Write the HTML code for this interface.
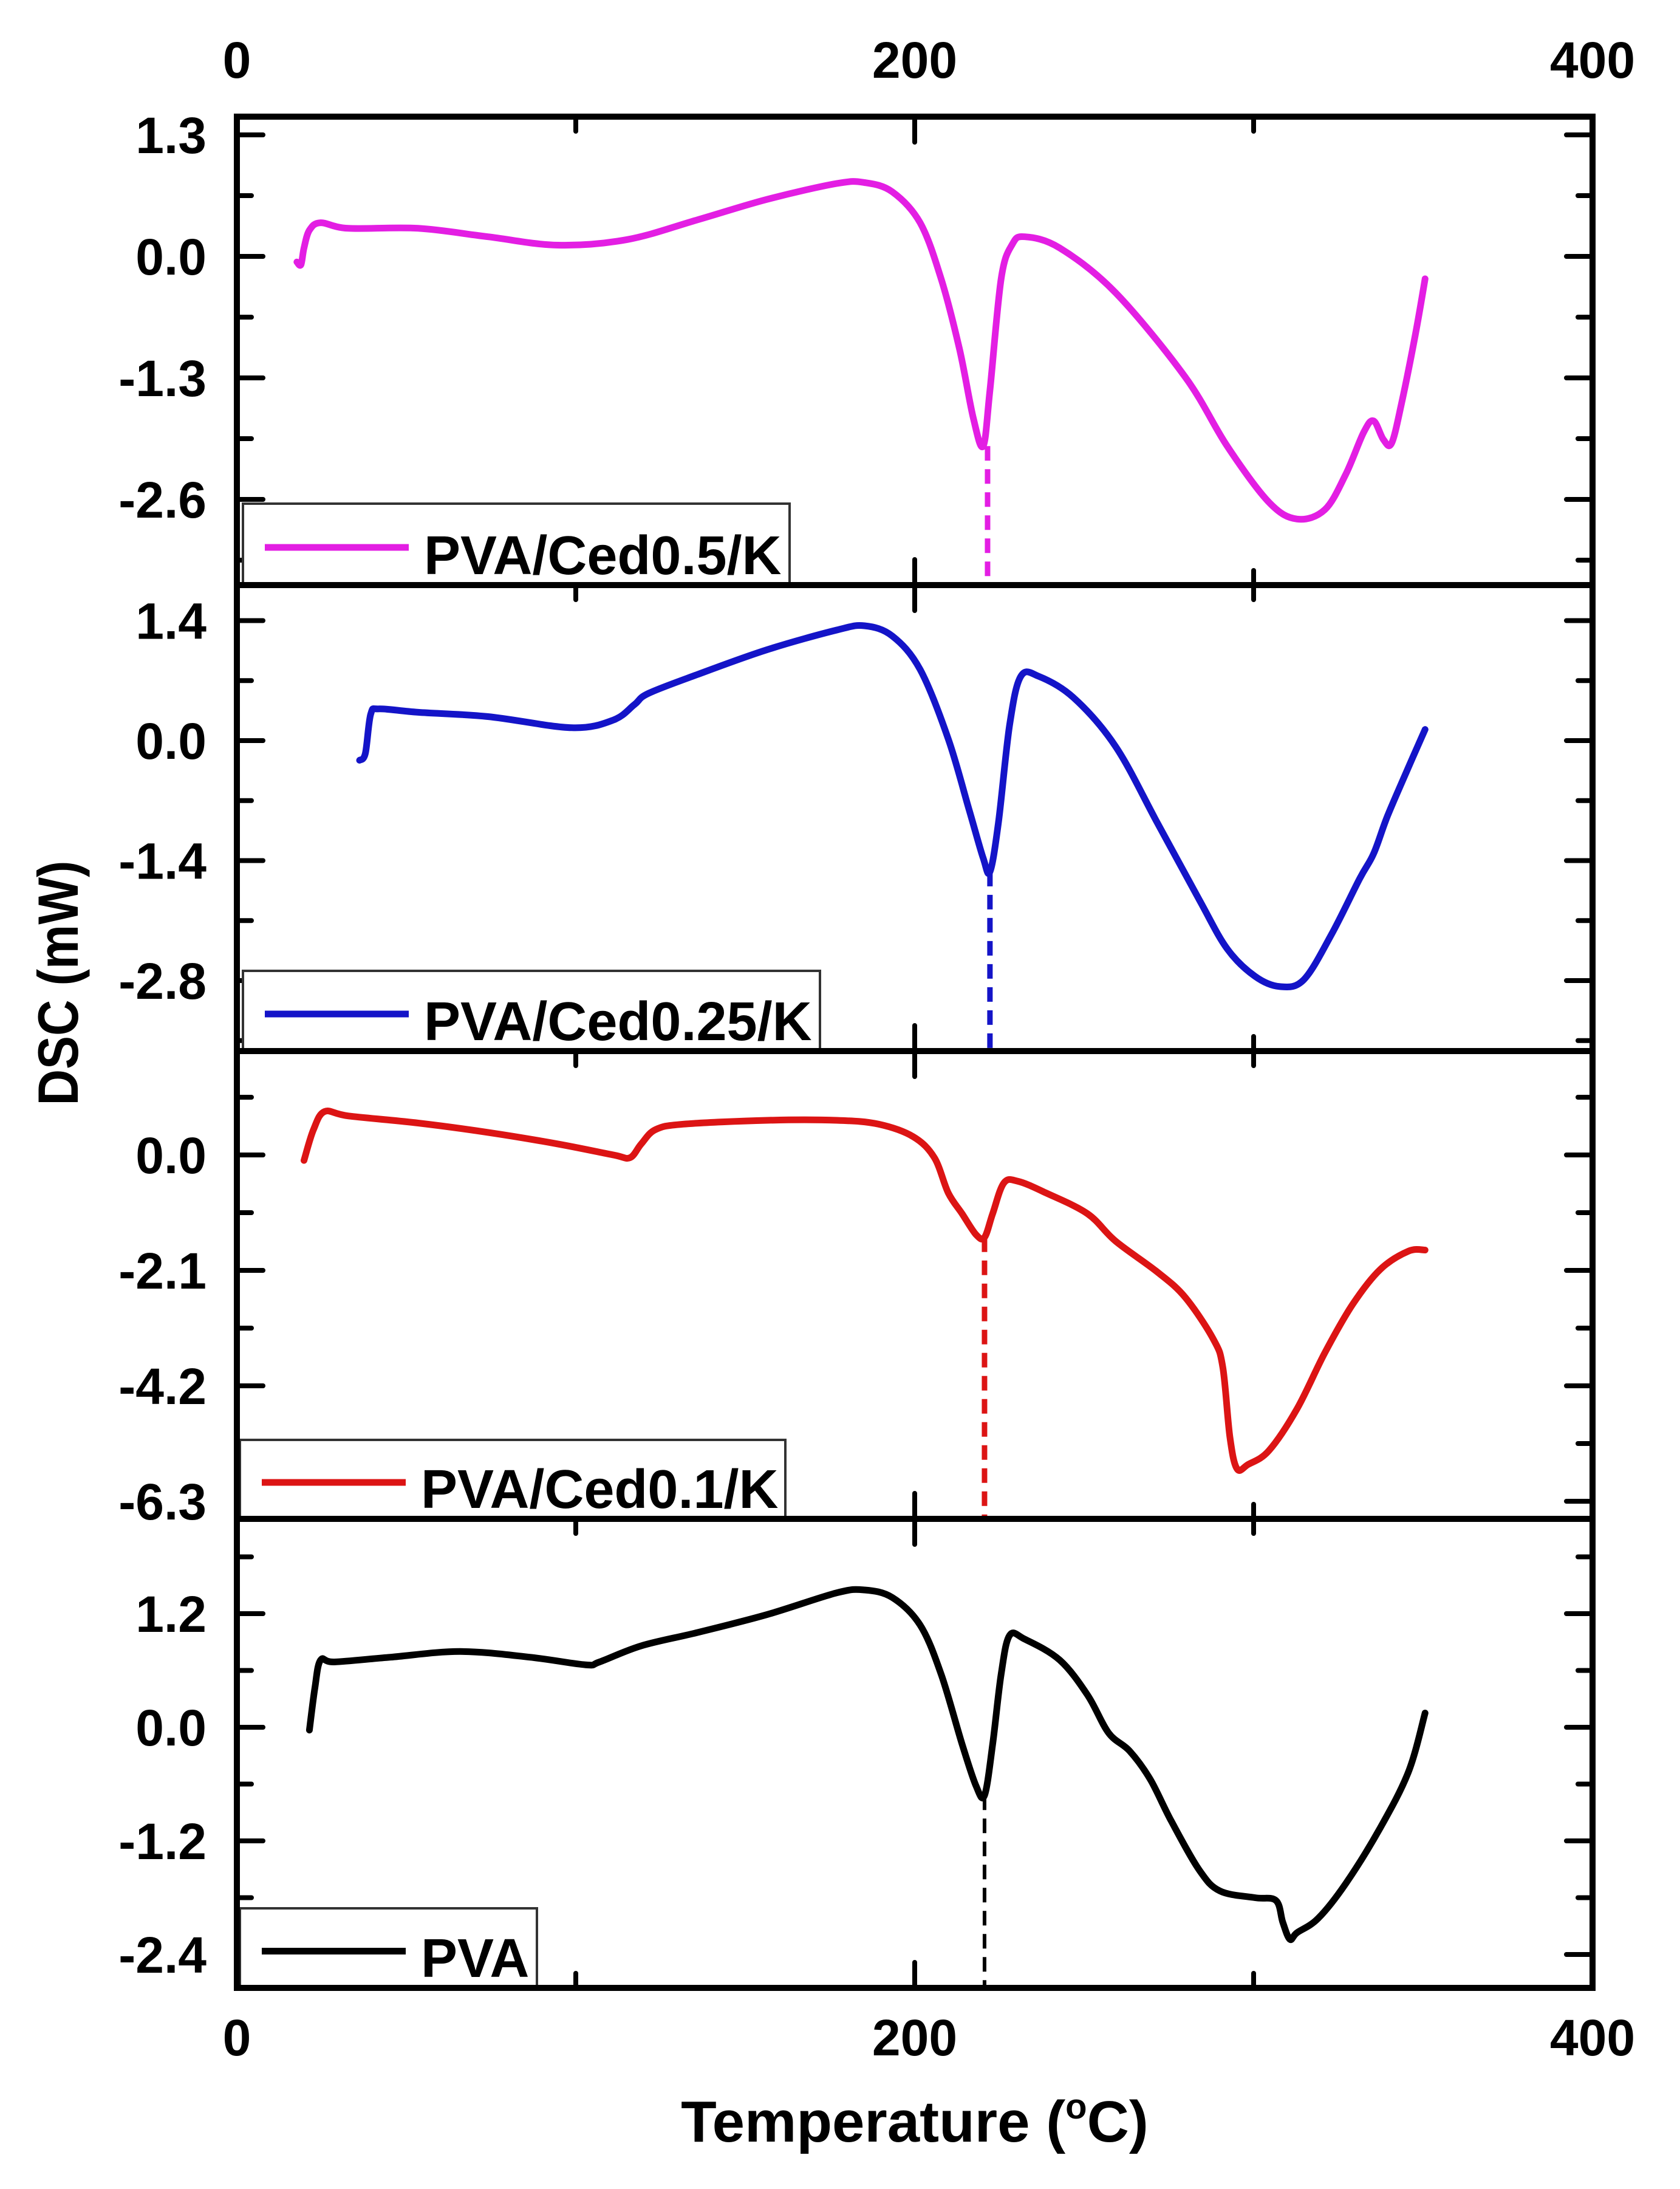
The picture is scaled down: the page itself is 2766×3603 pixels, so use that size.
<!DOCTYPE html>
<html><head><meta charset="utf-8"><style>
html,body{margin:0;padding:0;background:#fff;}
svg{display:block;font-family:"Liberation Sans",Arial,sans-serif;font-weight:bold;}
</style></head><body>
<svg id="chart" width="2766" height="3603" viewBox="0 0 2766 3603" xmlns="http://www.w3.org/2000/svg">
<rect width="2766" height="3603" fill="#fff"/>
<g id="plots"></g>
<text x="1506" y="3525" font-size="96" text-anchor="middle">Temperature (<tspan font-size="58" dy="-38">o</tspan><tspan dy="38">C)</tspan></text>
<text x="0" y="0" font-size="94" text-anchor="middle" textLength="403" lengthAdjust="spacingAndGlyphs" transform="translate(128,1618) rotate(-90)">DSC (mW)</text>
</svg>
<script>
// ---- data ----
const xTickValues = [0, 200, 400];
const xMinorTicks = [100, 300];
const seriesNames = ["PVA/Ced0.5/K", "PVA/Ced0.25/K", "PVA/Ced0.1/K", "PVA"];
const seriesColors = ["#e31ee3", "#1414c8", "#dc1414", "#000000"];
const yTickLabels1 = [1.3, 0.0, -1.3, -2.6];
const yTickLabels2 = [1.4, 0.0, -1.4, -2.8];
const yTickLabels3 = [0.0, -2.1, -4.2, -6.3];
const yTickLabels4 = [1.2, 0.0, -1.2, -2.4];
const temp1 = [17.7,18.9,19.8,21.4,24.7,32.9,53.5,74.1,94.7,115.2,135.8,156.4,177.0,185.2,193.4,201.6,207.8,213.2,217.3,220.2,222.2,225.5,228.8,232.5,242.8,259.3,279.8,292.2,304.5,312.8,321.0,327.2,332.5,335.4,338.3,340.7,343.6,347.7,350.6];
const dsc1 = [-0.06,-0.09,0.09,0.28,0.36,0.30,0.30,0.21,0.12,0.18,0.39,0.61,0.78,0.79,0.69,0.36,-0.24,-0.99,-1.73,-2.03,-1.43,-0.24,0.13,0.21,0.09,-0.39,-1.29,-2.03,-2.63,-2.81,-2.71,-2.33,-1.88,-1.76,-1.96,-2.00,-1.58,-0.84,-0.24];
const temp2 = [36.2,37.9,39.5,42.0,53.5,74.1,98.8,111.1,117.3,121.4,135.8,156.4,177.0,185.2,193.4,201.6,209.9,216.0,220.2,222.2,224.7,228.0,231.3,236.6,246.9,259.3,271.6,284.0,292.2,300.4,307.8,314.8,323.0,331.3,335.4,339.5,345.7,350.6];
const dsc2 = [-0.23,-0.15,0.31,0.37,0.33,0.28,0.15,0.24,0.42,0.55,0.77,1.06,1.29,1.34,1.22,0.83,0.02,-0.80,-1.37,-1.53,-0.96,0.18,0.75,0.75,0.50,-0.07,-0.96,-1.86,-2.43,-2.75,-2.87,-2.79,-2.26,-1.61,-1.32,-0.88,-0.31,0.13];
const temp3 = [19.8,22.6,25.9,32.9,53.5,74.1,94.7,111.1,116.0,119.3,123.5,131.7,156.4,177.0,189.3,199.6,205.8,209.9,214.0,218.1,220.6,223.0,226.3,230.5,238.7,251.0,259.3,271.6,279.8,288.1,290.9,293.0,295.1,298.4,304.5,312.8,321.0,329.2,337.4,345.7,350.6];
const dsc3 = [-0.10,0.46,0.79,0.71,0.58,0.41,0.20,0.00,-0.05,0.20,0.46,0.56,0.63,0.63,0.56,0.33,-0.05,-0.69,-1.07,-1.45,-1.50,-1.07,-0.51,-0.48,-0.69,-1.07,-1.57,-2.13,-2.59,-3.35,-3.86,-5.13,-5.71,-5.63,-5.38,-4.62,-3.60,-2.72,-2.08,-1.75,-1.73];
const temp4 = [21.4,23.0,24.7,28.8,45.3,65.8,86.4,102.9,107.0,119.3,135.8,156.4,177.0,185.2,193.4,201.6,207.8,214.0,218.1,220.6,223.0,225.5,228.0,232.5,242.8,251.0,257.2,263.4,269.5,275.7,284.0,290.1,300.4,306.6,308.6,310.7,312.8,319.0,327.2,337.4,345.7,350.6];
const dsc4 = [-0.03,0.41,0.71,0.69,0.74,0.80,0.74,0.66,0.69,0.86,1.00,1.19,1.42,1.45,1.37,1.08,0.56,-0.18,-0.62,-0.72,-0.18,0.56,0.97,0.93,0.71,0.34,-0.06,-0.25,-0.55,-0.99,-1.51,-1.73,-1.80,-1.83,-2.06,-2.24,-2.17,-2.02,-1.65,-1.06,-0.47,0.15];
const dipTemps = [221.5, 222.2, 220.6, 220.6];
const dipValues = [-2.03, -1.53, -1.50, -0.72];
const yTickSteps = [1.3, 1.4, 2.1, 1.2];

// ---- layout ----
const X0 = 390, X1 = 2622, XMIN = 0, XMAX = 400;
const xs = t => X0 + (t - XMIN) / (XMAX - XMIN) * (X1 - X0);
const panels = [
  {top:192, bottom:963, zero:422, ppu:200/1.3, legend:{x:400,y:829,w:900,h:134}},
  {top:963, bottom:1730, zero:1219, ppu:197.5/1.4, legend:{x:400,y:1598,w:950,h:132}},
  {top:1730, bottom:2500, zero:1901, ppu:190/2.1, legend:{x:395,y:2370,w:898,h:130}},
  {top:2500, bottom:3272, zero:2843, ppu:187/1.2, legend:{x:395,y:3141,w:489,h:131}}
];
const temps = [temp1, temp2, temp3, temp4];
const vals = [dsc1, dsc2, dsc3, dsc4];
const labels = [yTickLabels1, yTickLabels2, yTickLabels3, yTickLabels4];
const NS = "http://www.w3.org/2000/svg";
const root = document.getElementById('plots');
function mk(tag, attrs, parent){ const e = document.createElementNS(NS, tag); for (const k in attrs) e.setAttribute(k, attrs[k]); (parent||root).appendChild(e); return e; }

function smoothPath(pts){
  let d = `M${pts[0][0].toFixed(1)},${pts[0][1].toFixed(1)}`;
  for (let i=0;i<pts.length-1;i++){
    const p0=pts[Math.max(0,i-1)], p1=pts[i], p2=pts[i+1], p3=pts[Math.min(pts.length-1,i+2)];
    const c1x=p1[0]+(p2[0]-p0[0])/6, c1y=p1[1]+(p2[1]-p0[1])/6;
    const c2x=p2[0]-(p3[0]-p1[0])/6, c2y=p2[1]-(p3[1]-p1[1])/6;
    d += ` C${c1x.toFixed(1)},${c1y.toFixed(1)} ${c2x.toFixed(1)},${c2y.toFixed(1)} ${p2[0].toFixed(1)},${p2[1].toFixed(1)}`;
  }
  return d;
}

panels.forEach((p, i) => {
  const ys = v => p.zero - v * p.ppu;
  const g = mk('g', {});
  
  
  const step = yTickSteps[i] / 2;
  for (let k = -20; k <= 20; k++) {
    const v = k * step, y = ys(v);
    if (y < p.top + 8 || y > p.bottom - 8) continue;
    const len = (k % 2 === 0) ? 43 : 24;
    const t1 = mk('line', {x1:X0, x2:X0+len, y1:y, y2:y, stroke:'#000', 'stroke-width':8, 'stroke-linecap':'round'}, g);
    
    
    const t2 = mk('line', {x1:X1, x2:X1-len, y1:y, y2:y, stroke:'#000', 'stroke-width':8, 'stroke-linecap':'round'}, g);
    
    
  }
  labels[i].forEach(v => {
    const t = mk('text', {x:340, y:ys(v)+30, 'font-size':84, 'text-anchor':'end'}, g);
    
    
    t.textContent = v.toFixed(1);
  });
  [...xMinorTicks, 200].forEach(tv => {
    const len = tv === 200 ? 42 : 24;
    const a = mk('line', {x1:xs(tv), x2:xs(tv), y1:p.top, y2:p.top+len, stroke:'#000', 'stroke-width':8, 'stroke-linecap':'round'}, g);
    
    
    const b = mk('line', {x1:xs(tv), x2:xs(tv), y1:p.bottom, y2:p.bottom-len, stroke:'#000', 'stroke-width':8, 'stroke-linecap':'round'}, g);
    
    
  });
  const dl = mk('line', {x1:xs(dipTemps[i]), x2:xs(dipTemps[i]), y1:ys(dipValues[i]), y2:p.bottom, stroke:seriesColors[i], 'stroke-width': i===3?6:9, 'stroke-dasharray':'24 14'}, g);
  
  
  const pts = temps[i].map((t, j) => [xs(t), ys(vals[i][j])]);
  const path = mk('path', {d:smoothPath(pts), fill:'none', stroke:seriesColors[i], 'stroke-width':11, 'stroke-linejoin':'round', 'stroke-linecap':'round'}, g);
  
  
  const L = p.legend;
  const lg = mk('g', {}, g);
  
  
  mk('rect', {x:L.x, y:L.y, width:L.w, height:L.h, fill:'#fff', stroke:'#333', 'stroke-width':4}, lg);
  const ll = mk('line', {x1:L.x+36, x2:L.x+273, y1:L.y+L.h/2+5, y2:L.y+L.h/2+5, stroke:seriesColors[i], 'stroke-width':11}, lg);
  
  
  const lt = mk('text', {x:L.x+298, y:L.y+L.h-18, 'font-size':90}, lg);
  
  
  lt.textContent = seriesNames[i];
  const fr = mk('rect', {x:X0, y:p.top, width:X1-X0, height:p.bottom-p.top, fill:'none', stroke:'#000', 'stroke-width':10}, g);
  
  
});
xTickValues.forEach(tv => {
  const a = mk('text', {x:xs(tv), y:128, 'font-size':84, 'text-anchor':'middle'});
  
  
  a.textContent = tv;
  const b = mk('text', {x:xs(tv), y:3383, 'font-size':84, 'text-anchor':'middle'});
  
  
  b.textContent = tv;
});
</script>
</body></html>
